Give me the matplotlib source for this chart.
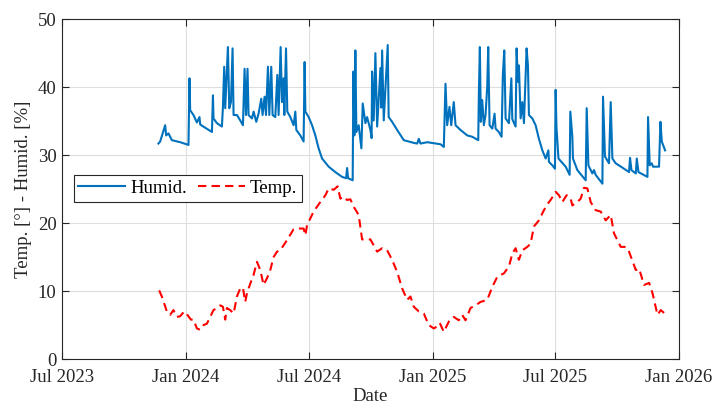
import numpy as np
import pandas as pd
import matplotlib
matplotlib.use("Agg")
import matplotlib.pyplot as plt
import matplotlib.dates as mdates

plt.rcParams["font.family"] = ["Liberation Serif", "DejaVu Serif"]
plt.rcParams["font.size"] = 13.5

# days since 2023-07-01
start = pd.Timestamp("2023-07-01")

hum_day = [143.0, 145.6, 153.0, 154.5, 157.9, 162.9, 175.3, 187.6, 189.1, 190.1,
           195.0, 200.1, 203.9, 205.0, 222.4, 223.9, 224.7, 229.8, 237.2, 238.7,
           240.6, 242.1, 246.1, 248.1, 250.6, 253.0, 254.5, 259.5, 264.4, 268.4,
           270.8, 272.9, 275.2, 276.7, 281.8, 284.2, 288.2, 291.6, 295.6, 297.5,
           300.5, 302.6, 305.5, 307.5, 310.4, 312.4, 316.4, 319.4, 321.3, 324.3,
           326.3, 328.7, 329.8, 332.3, 334.2, 338.7, 343.6, 346.1, 347.6, 353.5,
           358.4, 359.9, 361.0, 365.9, 370.9, 375.8, 380.7, 385.8, 395.6, 405.5,
           415.5, 421.4, 422.9, 424.4, 431.2, 432.3, 433.7, 435.2, 436.7, 440.1,
           444.1, 446.1, 450.1, 452.6, 457.5, 459.3, 460.0, 462.4, 464.9, 467.5,
           472.4, 473.6, 474.9, 477.3, 483.2, 484.6, 489.7, 497.2, 507.0, 521.8,
           526.9, 529.3, 531.8, 541.7, 561.5, 566.4, 568.9, 571.4, 574.8, 577.4,
           581.2, 583.8, 591.2, 601.1, 608.6, 617.5, 618.4, 619.9, 621.3, 623.4,
           625.8, 628.3, 630.8, 632.3, 634.3, 638.3, 641.7, 643.2, 648.1, 652.1,
           654.0, 656.1, 658.1, 663.0, 666.6, 668.0, 672.9, 674.4, 676.3, 677.8,
           680.4, 682.9, 685.3, 689.2, 691.2, 692.7, 697.7, 702.6, 707.5, 712.6,
           717.5, 721.5, 722.4, 727.4, 731.3, 732.3, 733.5, 736.5, 747.2, 753.1,
           754.1, 757.1, 758.0, 764.5, 776.9, 778.4, 780.9, 786.8, 789.2, 791.7,
           801.7, 802.6, 805.5, 811.5, 814.0, 816.5, 821.4, 833.8, 841.2, 842.7,
           844.8, 851.2, 852.7, 855.2, 868.5, 869.4, 871.9, 874.9, 876.8, 885.7,
           887.8, 889.8, 891.7, 894.7]
hum_val = [31.7, 32.0, 34.4, 32.9, 33.2, 32.2, 31.9, 31.5, 41.3, 36.6,
           35.9, 34.8, 35.6, 34.5, 33.4, 38.8, 35.4, 34.7, 34.2, 37.1,
           43.0, 36.9, 45.9, 36.9, 37.8, 45.7, 35.9, 35.9, 35.1, 34.4,
           42.7, 35.9, 42.7, 35.9, 35.4, 36.4, 34.9, 36.1, 38.3, 35.9,
           38.6, 35.9, 43.0, 35.9, 43.0, 35.9, 35.6, 41.8, 35.9, 45.9,
           37.8, 41.3, 35.9, 45.7, 36.4, 35.6, 34.4, 36.4, 33.7, 32.9,
           32.0, 43.7, 36.4, 35.6, 34.4, 32.9, 31.0, 29.5, 28.3, 27.5,
           26.8, 26.6, 28.1, 26.6, 26.3, 42.3, 32.9, 45.4, 33.4, 34.4,
           31.0, 37.6, 34.7, 35.6, 33.7, 32.5, 42.3, 35.1, 45.0, 34.2,
           42.8, 37.0, 45.4, 35.1, 46.2, 35.6, 34.9, 33.7, 32.2, 31.8,
           31.7, 32.4, 31.7, 31.9, 31.6, 31.2, 40.5, 34.4, 37.1, 34.4,
           37.8, 34.4, 33.7, 32.9, 32.7, 32.2, 39.1, 45.9, 34.9, 38.1,
           34.4, 35.9, 40.0, 45.9, 34.4, 33.9, 36.1, 33.9, 33.4, 32.7,
           41.8, 45.4, 35.4, 34.7, 41.3, 35.3, 34.2, 45.7, 40.8, 43.2,
           35.4, 37.8, 34.7, 45.7, 43.2, 35.9, 35.4, 34.4, 32.4, 30.7,
           29.5, 30.7, 29.0, 28.5, 28.0, 39.6, 34.2, 29.5, 28.3, 27.1,
           36.4, 32.7, 29.5, 27.8, 26.3, 36.9, 28.5, 27.3, 27.8, 27.1,
           25.8, 38.6, 29.8, 28.8, 37.8, 29.5, 28.8, 28.0, 27.5, 29.6,
           27.8, 27.3, 29.5, 27.5, 26.8, 35.6, 28.5, 28.8, 28.3, 28.3,
           34.9, 32.0, 31.5, 30.7]

temp_day = [144.1, 148.1, 155.5, 160.4, 165.3, 170.4, 175.3, 181.2, 185.2, 191.2,
            195.0, 200.1, 205.0, 209.9, 214.9, 219.8, 224.7, 229.8, 234.7, 238.7,
            242.1, 244.6, 249.5, 254.5, 259.5, 264.4, 268.4, 271.8, 274.4, 279.3,
            284.2, 289.2, 294.1, 299.0, 304.1, 309.0, 313.9, 318.9, 323.8, 333.8,
            343.6, 351.0, 358.4, 361.0, 363.5, 373.3, 383.2, 390.7, 395.6, 403.0,
            408.9, 412.9, 417.8, 422.9, 427.8, 432.7, 440.1, 445.2, 457.5, 467.5,
            474.9, 482.3, 489.7, 497.2, 504.6, 512.0, 516.9, 521.8, 529.3, 536.7,
            544.1, 551.5, 556.6, 560.4, 566.4, 573.8, 581.2, 588.6, 593.7, 598.6,
            606.0, 613.5, 620.9, 630.8, 638.3, 645.7, 655.5, 663.0, 668.0, 672.9,
            677.8, 682.9, 690.3, 695.2, 700.1, 707.5, 714.9, 722.4, 724.9, 732.3,
            737.2, 742.3, 748.6, 754.6, 757.1, 764.5, 769.5, 774.4, 779.4, 784.3,
            791.7, 799.1, 806.6, 814.0, 818.9, 828.9, 836.3, 841.2, 851.2, 856.1,
            863.5, 871.0, 876.0, 883.4, 888.3, 894.2]
temp_val = [10.1, 9.2, 7.0, 6.5, 7.2, 6.2, 6.3, 7.0, 6.6, 5.8,
            5.8, 4.5, 4.3, 5.0, 5.2, 6.2, 7.2, 7.5, 7.9, 7.7,
            5.8, 7.5, 7.2, 6.7, 9.2, 10.4, 10.5, 8.4, 9.7, 11.1,
            12.4, 14.3, 13.1, 10.9, 11.9, 13.1, 15.0, 15.8, 16.0, 17.5,
            19.1, 19.2, 19.2, 18.2, 19.7, 21.7, 23.1, 24.1, 25.1, 24.9,
            25.4, 23.6, 23.9, 23.4, 23.5, 22.4, 21.2, 17.6, 17.6, 15.8,
            16.3, 16.0, 14.6, 12.8, 10.4, 8.7, 9.2, 7.7, 7.0, 6.7,
            5.0, 4.5, 4.8, 5.3, 4.0, 5.5, 6.2, 5.7, 6.5, 5.7,
            7.5, 7.9, 8.4, 8.7, 10.6, 12.1, 12.6, 13.6, 15.5, 16.3,
            14.6, 16.0, 16.5, 17.0, 19.5, 20.4, 21.9, 23.1, 23.4, 24.6,
            24.1, 23.1, 24.1, 23.6, 22.6, 23.1, 23.6, 25.2, 25.1, 23.1,
            21.9, 21.7, 20.4, 21.2, 18.5, 16.5, 16.5, 15.8, 13.1, 13.3,
            10.9, 11.2, 9.7, 6.5, 7.2, 6.7]

hum_t = start + pd.to_timedelta(hum_day, unit="D")
temp_t = start + pd.to_timedelta(temp_day, unit="D")

fig = plt.figure(figsize=(7.13, 4.08), dpi=100)
ax = fig.add_axes([0.087, 0.120, 0.865, 0.833])

ax.plot(hum_t, hum_val, color="#0072BD", lw=1.5, label="Humid.")
ax.plot(temp_t, temp_val, color="red", lw=1.5, ls="--", dashes=(4, 2.5), label="Temp.")

ax.set_xlim(pd.Timestamp("2023-07-01"), pd.Timestamp("2026-01-01"))
ax.set_ylim(0, 50)
ax.xaxis.set_major_locator(mdates.MonthLocator(bymonth=[1, 7]))
ax.xaxis.set_major_formatter(mdates.DateFormatter("%b %Y"))
ax.set_yticks(range(0, 51, 10))

ax.grid(True, color="#dedede", lw=0.8)
ax.set_axisbelow(True)
ax.tick_params(direction="in", top=True, right=True, length=5, width=0.8,
               color="#262626", labelcolor="#262626", pad=4)
ax.tick_params(axis="x", pad=7.5)
for s in ax.spines.values():
    s.set_color("#262626")
    s.set_linewidth(0.8)

ax.set_xlabel("Date", color="#262626", labelpad=1)
ax.set_ylabel("Temp. [°] - Humid. [%]", color="#262626", labelpad=4)

leg = ax.legend(loc="upper left", bbox_to_anchor=(0.019, 0.541), borderaxespad=0,
                ncol=2, fancybox=False, framealpha=1, edgecolor="#262626",
                handlelength=2.5, handletextpad=0.25, columnspacing=0.6,
                borderpad=0.25)
leg.get_frame().set_linewidth(0.8)

fig.savefig("out.png", dpi=100)
